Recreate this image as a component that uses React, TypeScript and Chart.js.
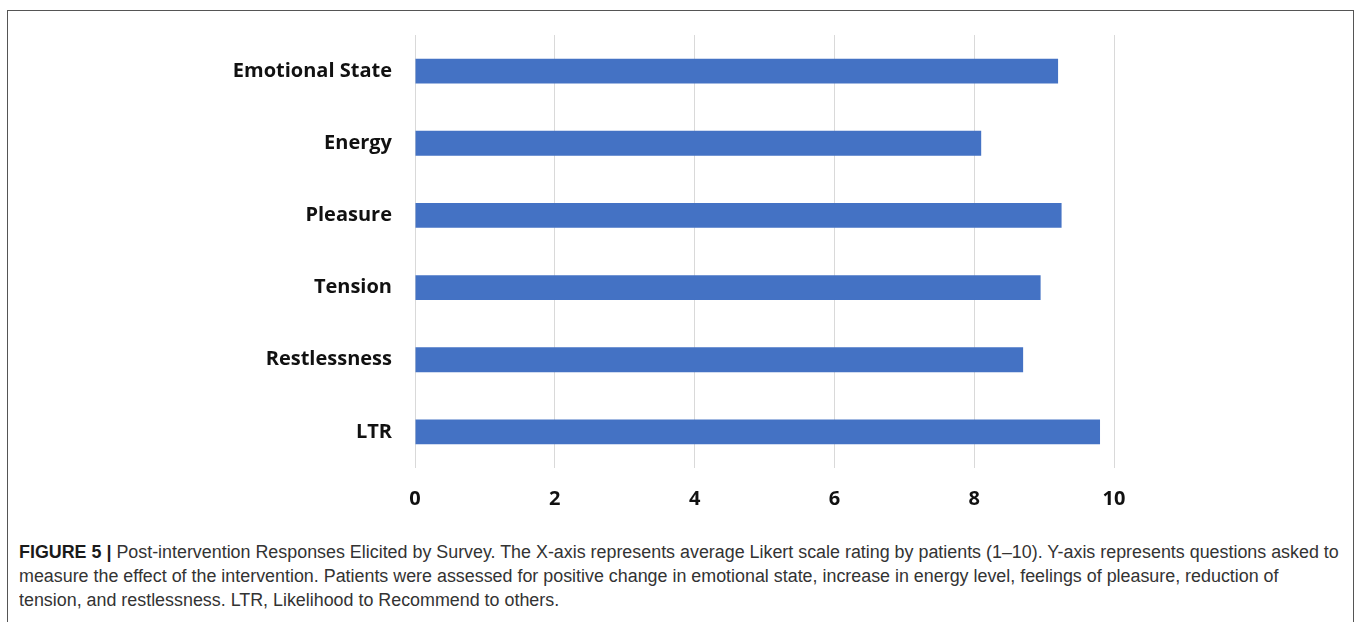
import React, { useEffect, useRef } from "react";
import { Chart, registerables } from "chart.js";

Chart.register(...registerables);

const categories = ["Emotional State", "Energy", "Pleasure", "Tension", "Restlessness", "LTR"];
const ratings = [9.2, 8.1, 9.25, 8.95, 8.7, 9.8];
const xMin = 0;
const xMax = 10;
const xStep = 2;

const captionLines = [
  "Post-intervention Responses Elicited by Survey. The X-axis represents average Likert scale rating by patients (1\u201310). Y-axis represents questions asked to",
  "measure the effect of the intervention. Patients were assessed for positive change in emotional state, increase in energy level, feelings of pleasure, reduction of",
  "tension, and restlessness. LTR, Likelihood to Recommend to others.",
];

export default function App() {
  const ref = useRef<HTMLCanvasElement | null>(null);

  useEffect(() => {
    if (!ref.current) return;
    const chart = new Chart(ref.current, {
      type: "bar",
      data: {
        labels: categories,
        datasets: [
          {
            data: ratings,
            backgroundColor: "#4472C4",
            borderWidth: 0,
            categoryPercentage: 1,
            barPercentage: 0.345,
          },
        ],
      },
      options: {
        indexAxis: "y",
        responsive: false,
        animation: false,
        layout: { padding: { left: 0, right: 244, top: 33, bottom: 0 } },
        plugins: { legend: { display: false }, tooltip: { enabled: false } },
        scales: {
          x: {
            min: xMin,
            max: xMax,
            afterFit: (s: any) => {
              s.height = 52;
            },
            ticks: {
              stepSize: xStep,
              padding: 19,
              color: "#111",
              font: { family: "'Open Sans'", weight: "bold", size: 20 },
            },
            grid: { color: "#d9d9d9", lineWidth: 1, drawTicks: false },
            border: { display: false },
          },
          y: {
            afterFit: (s: any) => {
              s.width = 415;
            },
            ticks: {
              padding: 23,
              color: "#111",
              font: { family: "'Open Sans'", weight: "bold", size: 20 },
            },
            grid: { display: false, drawTicks: false },
            border: { display: false },
          },
        },
      },
    });
    return () => chart.destroy();
  }, []);

  return (
    <div style={{ position: "absolute", left: 0, top: 0, width: 1358, height: 622, overflow: "hidden", background: "#fff" }}>
      <div
        style={{
          position: "absolute",
          left: 7,
          top: 10,
          width: 1347,
          height: 640,
          border: "1.5px solid #555",
          boxSizing: "border-box",
        }}
      />
      <canvas ref={ref} width={1358} height={520} style={{ position: "absolute", left: 0, top: 0 }} />
      <div
        style={{
          position: "absolute",
          left: 19,
          top: 540,
          fontFamily: "'Liberation Sans', Arial, sans-serif",
          fontSize: 18,
          lineHeight: "24px",
          color: "#333",
          whiteSpace: "nowrap",
          transform: "scaleX(0.993)",
          transformOrigin: "left top",
        }}
      >
        <div>
          <b style={{ color: "#1a1a1a" }}>FIGURE 5 | </b>
          {captionLines[0]}
        </div>
        <div>{captionLines[1]}</div>
        <div>{captionLines[2]}</div>
      </div>
    </div>
  );
}
